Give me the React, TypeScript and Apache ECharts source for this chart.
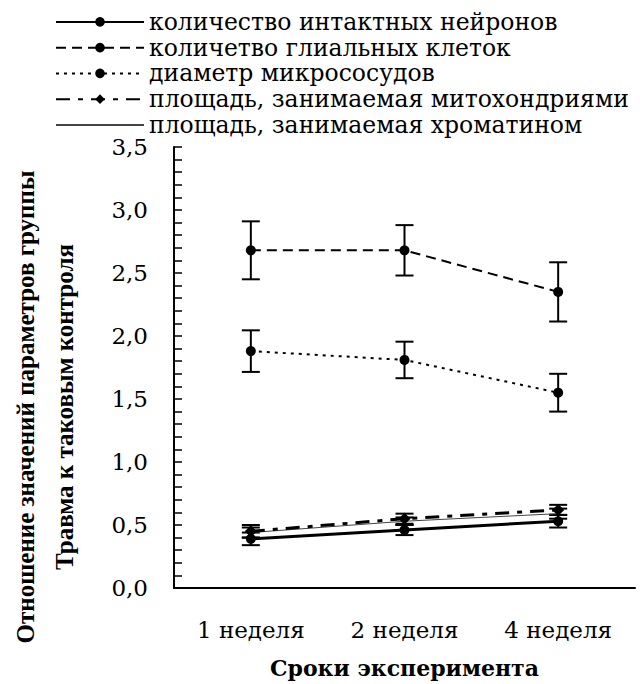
import React, { useEffect, useRef } from "react";
import * as echarts from "echarts";

const categories = ["1 неделя", "2 неделя", "4 неделя"];
const seriesNames = [
  "количество интактных нейронов",
  "количетво глиальных клеток",
  "диаметр микрососудов",
  "площадь, занимаемая митохондриями",
  "площадь, занимаемая хроматином",
];
const neurons = [0.39, 0.46, 0.53];
const neuronsErr = [0.05, 0.04, 0.05];
const glial = [2.68, 2.68, 2.35];
const glialErr = [0.23, 0.2, 0.235];
const vessels = [1.88, 1.81, 1.55];
const vesselsErr = [0.165, 0.145, 0.15];
const mito = [0.45, 0.55, 0.62];
const mitoErr = [0.05, 0.04, 0.04];
const chromatin = [0.44, 0.53, 0.59];
const chromatinErr = [0.04, 0.03, 0.04];
const yTitle1 = "Отношение значений параметров группы";
const yTitle2 = "Травма к таковым контроля";
const xTitle = "Сроки эксперимента";

const FONT = "DejaVu Serif";

function errSeries(vals: number[], errs: number[]) {
  return {
    type: "custom",
    silent: true,
    z: 3,
    data: vals.map((v, i) => [i, v - errs[i], v + errs[i]]),
    renderItem: (params: any, api: any) => {
      const x = api.value(0);
      const lo = api.coord([x, api.value(1)]);
      const hi = api.coord([x, api.value(2)]);
      const half = 9;
      const st = { stroke: "#000", lineWidth: 2 };
      return {
        type: "group",
        children: [
          { type: "line", shape: { x1: lo[0], y1: lo[1], x2: hi[0], y2: hi[1] }, style: st },
          { type: "line", shape: { x1: lo[0] - half, y1: lo[1], x2: lo[0] + half, y2: lo[1] }, style: st },
          { type: "line", shape: { x1: hi[0] - half, y1: hi[1], x2: hi[0] + half, y2: hi[1] }, style: st },
        ],
      };
    },
  };
}

export default function App() {
  const ref = useRef<HTMLDivElement>(null);
  useEffect(() => {
    const chart = echarts.init(ref.current!, undefined, { renderer: "svg" });
    chart.setOption({
      animation: false,
      backgroundColor: "#fff",
      grid: { left: 174, right: 5, top: 147, bottom: 86 },
      legend: {
        orient: "vertical",
        left: 50,
        top: 4,
        itemWidth: 88,
        itemHeight: 12,
        itemGap: 0,
        data: [
          seriesNames[0],
          seriesNames[1],
          seriesNames[2],
          seriesNames[3],
          { name: seriesNames[4], itemStyle: { color: "rgba(0,0,0,0)", borderWidth: 0 } },
        ],
        textStyle: {
          fontFamily: FONT,
          fontSize: 23.5,
          color: "#000",
          lineHeight: 15.75,
          padding: [10, 0, 0, 0],
        },
      },
      xAxis: {
        type: "category",
        data: categories,
        boundaryGap: true,
        axisLine: { lineStyle: { color: "#000", width: 2 } },
        axisTick: { inside: true, length: 8, lineStyle: { color: "#000", width: 2 } },
        axisLabel: { margin: 30, fontFamily: FONT, fontSize: 23, color: "#000" },
        name: xTitle,
        nameLocation: "middle",
        nameGap: 69,
        nameTextStyle: { fontFamily: FONT, fontWeight: "bold", fontSize: 22, color: "#000" },
      },
      yAxis: {
        type: "value",
        min: 0,
        max: 3.5,
        interval: 0.5,
        splitLine: { show: false },
        axisLine: { show: true, lineStyle: { color: "#000", width: 2 } },
        axisTick: { show: true, inside: true, length: 8, lineStyle: { color: "#000", width: 1.5 } },
        minorTick: { show: true, splitNumber: 5, length: 8, lineStyle: { color: "#000", width: 1.5 } },
        axisLabel: {
          margin: 26,
          fontFamily: FONT,
          fontSize: 23,
          color: "#000",
          formatter: (v: number) => v.toFixed(1).replace(".", ","),
        },
      },
      graphic: [
        {
          type: "text",
          x: 25,
          y: 407,
          rotation: Math.PI / 2,
          style: {
            text: yTitle1,
            fontFamily: "'Liberation Serif', serif",
            fontWeight: "bold",
            fontSize: 25,
            fill: "#000",
            align: "center",
            verticalAlign: "middle",
          },
        },
        {
          type: "text",
          x: 64,
          y: 407,
          rotation: Math.PI / 2,
          style: {
            text: yTitle2,
            fontFamily: "'Liberation Serif', serif",
            fontWeight: "bold",
            fontSize: 25,
            fill: "#000",
            align: "center",
            verticalAlign: "middle",
          },
        },
      ],
      series: [
        {
          name: seriesNames[0],
          type: "line",
          data: neurons,
          symbol: "circle",
          symbolSize: 10,
          z: 5,
          itemStyle: { color: "#000" },
          lineStyle: { color: "#000", width: 3, type: "solid" },
        },
        {
          name: seriesNames[1],
          type: "line",
          data: glial,
          symbol: "circle",
          symbolSize: 10,
          z: 5,
          itemStyle: { color: "#000" },
          lineStyle: { color: "#000", width: 2, type: [10, 6] },
        },
        {
          name: seriesNames[2],
          type: "line",
          data: vessels,
          symbol: "circle",
          symbolSize: 10,
          z: 5,
          itemStyle: { color: "#000" },
          lineStyle: { color: "#000", width: 2, type: [3, 5] },
        },
        {
          name: seriesNames[3],
          type: "line",
          data: mito,
          symbol: "diamond",
          symbolSize: 12,
          z: 5,
          itemStyle: { color: "#000" },
          lineStyle: { color: "#000", width: 3, type: [14, 8, 5, 8] },
        },
        {
          name: seriesNames[4],
          type: "line",
          data: chromatin,
          symbol: "none",
          z: 4,
          itemStyle: { color: "#444" },
          lineStyle: { color: "#444", width: 1, type: "solid" },
        },
        errSeries(neurons, neuronsErr),
        errSeries(glial, glialErr),
        errSeries(vessels, vesselsErr),
        errSeries(mito, mitoErr),
        errSeries(chromatin, chromatinErr),
      ],
    });
    return () => chart.dispose();
  }, []);
  return (
    <div
      ref={ref}
      style={{ position: "fixed", left: 0, top: 0, width: 640, height: 684, background: "#fff" }}
    />
  );
}
